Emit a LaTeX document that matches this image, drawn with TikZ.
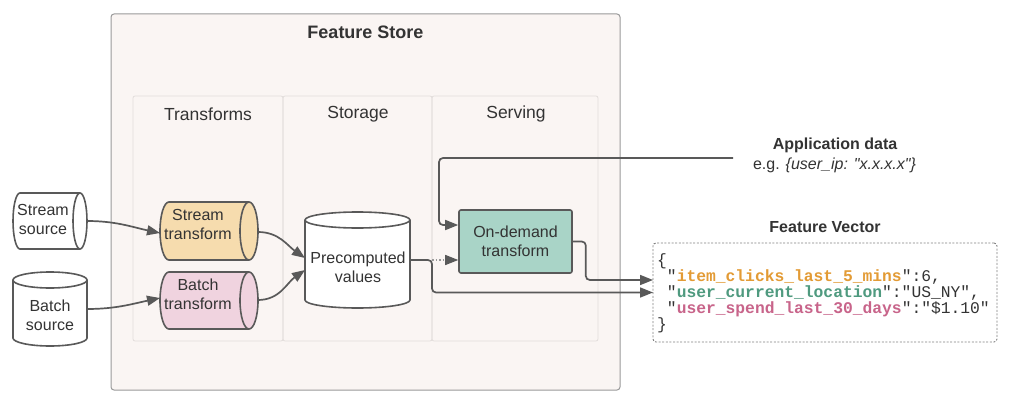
\documentclass[tikz,border=0pt]{standalone}
\usepackage{fontspec}
\setmainfont{Liberation Sans}[Ligatures=TeXOff]
\setmonofont{Liberation Mono}
\usetikzlibrary{arrows.meta}
\definecolor{linec}{HTML}{595959}
\definecolor{txtc}{HTML}{333333}
\definecolor{outerc}{HTML}{9A9A9A}
\definecolor{outerf}{HTML}{FAF5F3}
\definecolor{colc}{HTML}{E2DDDB}
\definecolor{stf}{HTML}{F6DCAE}
\definecolor{btf}{HTML}{F0D3DF}
\definecolor{odf}{HTML}{A9D4C7}
\definecolor{keyo}{HTML}{E39B35}
\definecolor{keyg}{HTML}{4F9A7F}
\definecolor{keyp}{HTML}{C8648A}
\begin{document}
\begin{tikzpicture}[x=1pt,y=1pt,
  cyl/.style={draw=linec, line width=1.6pt},
  conn/.style={draw=linec, line width=1.7pt, -{Triangle[length=13pt,width=10pt]}, rounded corners=4pt},
  dotconn/.style={draw=gray!80, line width=1.3pt, dash pattern=on 1.5pt off 2pt, -{Triangle[length=13pt,width=10pt,color=linec]}},
  lbl/.style={text=txtc, font=\fontsize{16}{19}\selectfont, align=center, inner sep=0},
  hdr/.style={text=txtc, font=\fontsize{17.5}{20}\selectfont, inner sep=0},
  anc/.style={inner sep=0, outer sep=0}]
\useasboundingbox (0,0) rectangle (1024,400);
\fill[white] (0,0) rectangle (1024,400);
% Feature store outer box
\node[draw=outerc, fill=outerf, rounded corners=3pt, line width=1pt, minimum width=509pt, minimum height=376pt, anc] (fs) at (365.5,198) {};
\node[text=txtc, font=\bfseries\fontsize{18}{20}\selectfont, inner sep=0] (fst) at (365.5,368) {Feature Store};
% columns
\node[draw=colc, rounded corners=2pt, line width=0.8pt, minimum width=150pt, minimum height=245pt, anc] (ct) at (208,181.5) {};
\node[draw=colc, rounded corners=2pt, line width=0.8pt, minimum width=149pt, minimum height=245pt, anc] (cs) at (357.5,181.5) {};
\node[draw=colc, rounded corners=2pt, line width=0.8pt, minimum width=166pt, minimum height=245pt, anc] (cv) at (515,181.5) {};
\node[hdr] (tt) at (208,286) {Transforms};
\node[hdr] (tsg) at (358,286) {Storage};
\node[hdr] (tsv) at (516,286) {Serving};
% Stream source (horizontal cylinder)
\draw[cyl, fill=white] (20,207) -- (80,207) arc[start angle=90,end angle=-90,x radius=7pt,y radius=28pt] -- (20,151) arc[start angle=270,end angle=90,x radius=7pt,y radius=28pt] -- cycle;
\draw[cyl] (80,207) arc[start angle=90,end angle=270,x radius=7pt,y radius=28pt];
\node[anc, minimum width=74pt, minimum height=56pt] (ss) at (50,179) {};
\node[lbl] (ssl) at (43,180.5) {Stream\\source};
% Batch source (vertical cylinder)
\draw[cyl, fill=white] (13,120) -- (13,62) arc[start angle=180,end angle=360,x radius=37pt,y radius=8pt] -- (87,120) arc[start angle=0,end angle=180,x radius=37pt,y radius=8pt] -- cycle;
\draw[cyl] (13,120) arc[start angle=180,end angle=360,x radius=37pt,y radius=8pt];
\node[anc, minimum width=74pt, minimum height=74pt] (bs) at (50,91) {};
\node[lbl] (bsl) at (50,85) {Batch\\source};
% Stream transform
\draw[cyl, fill=stf] (169,198) -- (249,198) arc[start angle=90,end angle=-90,x radius=9pt,y radius=29pt] -- (169,140) arc[start angle=270,end angle=90,x radius=9pt,y radius=29pt] -- cycle;
\draw[cyl] (249,198) arc[start angle=90,end angle=270,x radius=9pt,y radius=29pt];
\node[anc, minimum width=98pt, minimum height=58pt] (st) at (209,169) {};
\node[lbl] (stl) at (198,176) {Stream\\transform};
% Batch transform
\draw[cyl, fill=btf] (169,128) -- (249,128) arc[start angle=90,end angle=-90,x radius=9pt,y radius=28.5pt] -- (169,71) arc[start angle=270,end angle=90,x radius=9pt,y radius=28.5pt] -- cycle;
\draw[cyl] (249,128) arc[start angle=90,end angle=270,x radius=9pt,y radius=28.5pt];
\node[anc, minimum width=98pt, minimum height=57pt] (bt) at (209,99.5) {};
\node[lbl] (btl) at (198,106) {Batch\\transform};
% Precomputed values
\draw[cyl, fill=white] (305,180) -- (305,100) arc[start angle=180,end angle=360,x radius=52.5pt,y radius=8pt] -- (410,180) arc[start angle=0,end angle=180,x radius=52.5pt,y radius=8pt] -- cycle;
\draw[cyl] (305,180) arc[start angle=180,end angle=360,x radius=52.5pt,y radius=8pt];
\node[anc, minimum width=105pt, minimum height=96pt] (pc) at (357.5,140) {};
\node[lbl] (pcl) at (358,132.5) {Precomputed\\values};
% On-demand transform
\node[draw=linec, fill=odf, line width=1.6pt, rounded corners=2pt, minimum width=113pt, minimum height=63pt, lbl] (od) at (515.5,158.5) {On-demand\\transform};
% Application data
\node[text=txtc, font=\bfseries\fontsize{16}{19}\selectfont, inner sep=0] (ad) at (835,255) {Application data};
\node[lbl] (eg) at (834.5,235) {e.g. \textit{\{user\_ip: "x.x.x.x"\}}};
\coordinate (adin) at (733,242);
% Feature vector
\node[text=txtc, font=\bfseries\fontsize{16}{19}\selectfont, inner sep=0] (fvl) at (825,173) {Feature Vector};
\node[draw=gray, line width=0.9pt, dash pattern=on 2pt off 1.6pt, rounded corners=3pt, minimum width=344pt, minimum height=99pt, anc] (fv) at (825,107.5) {};
\node[anchor=west, align=left, text=txtc, inner sep=0, font=\ttfamily\fontsize{16.3}{16}\selectfont] (json) at (657,106.5) {\{\\
\hphantom{x}"\textcolor{keyo}{\textbf{item\_clicks\_last\_5\_mins}}":6,\\
\hphantom{x}"\textcolor{keyg}{\textbf{user\_current\_location}}":"US\_NY",\\
\hphantom{x}"\textcolor{keyp}{\textbf{user\_spend\_last\_30\_days}}":"\$1.10"\\
\}};
% connectors
\draw[conn] (ss.east) to[out=0,in=168] ([yshift=-2pt]st.west);
\draw[conn] (bs.east) to[out=0,in=192] ([yshift=2.5pt]bt.west);
\draw[conn] ([yshift=-1pt]st.east) to[out=0,in=145] ([yshift=2pt]pc.west);
\draw[conn] ([yshift=0.5pt]bt.east) to[out=0,in=215] ([yshift=-10pt]pc.west);
\draw[conn] (pc.east) -- ++(22,0) |- (fv.west);
\draw[dotconn] ([xshift=22pt]pc.east) -- (od.west |- pc.east);
\draw[conn] (od.east) -- ++(13,0) |- ([yshift=12.5pt]fv.west);
\draw[conn] (adin) -- (439,242) |- ([yshift=16.5pt]od.west);
\end{tikzpicture}
\end{document}
